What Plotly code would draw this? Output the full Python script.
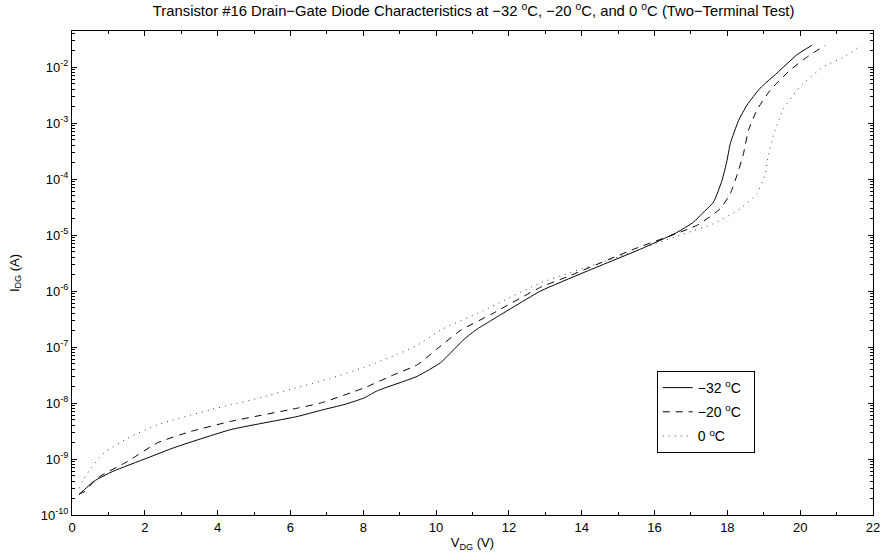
import plotly.graph_objects as go

# -32 C (solid)
v_m32 = [0.19, 0.6, 1.12, 2.08, 2.81, 4.36, 6.19, 6.83, 7.5, 8.02, 8.39, 9.48, 10.12, 10.45, 10.77, 11.13, 11.5, 12.87, 14.06, 15.61, 16.6, 17.07, 17.3, 17.62, 17.85, 17.99, 18.08, 18.31, 18.54, 18.90, 19.36, 19.91, 20.32]
i_m32 = [2.3e-10, 4.0e-10, 6.0e-10, 1.05e-9, 1.6e-9, 3.35e-9, 5.75e-9, 7.4e-9, 9.5e-9, 1.23e-8, 1.66e-8, 3.0e-8, 5.25e-8, 8.5e-8, 1.38e-7, 2.1e-7, 2.95e-7, 1.0e-6, 2.15e-6, 5.6e-6, 1.1e-5, 1.7e-5, 2.4e-5, 3.9e-5, 9.3e-5, 2.15e-4, 4.3e-4, 1.12e-3, 2.1e-3, 4.2e-3, 7.8e-3, 1.66e-2, 2.45e-2]

# -20 C (dashed)
v_m20 = [0.2, 0.34, 0.70, 1.53, 2.35, 3.26, 4.36, 6.19, 6.83, 8.02, 8.84, 9.48, 10.03, 10.68, 11.5, 12.87, 13.6, 15.43, 17.17, 17.8, 18.08, 18.28, 18.44, 18.58, 18.81, 19.18, 19.73, 20.18, 20.68]
i_m20 = [2.4e-10, 2.6e-10, 4.6e-10, 9.1e-10, 1.95e-9, 3.1e-9, 4.7e-9, 8.1e-9, 1.0e-8, 1.86e-8, 3.2e-8, 4.8e-8, 9.3e-8, 2.0e-7, 3.8e-7, 1.17e-6, 1.8e-6, 5.6e-6, 1.5e-5, 2.95e-5, 5.5e-5, 1.26e-4, 2.8e-4, 7.4e-4, 1.7e-3, 3.9e-3, 8.9e-3, 1.5e-2, 2.45e-2]

# 0 C (dotted)
v_0 = [0.2, 0.29, 0.52, 0.89, 1.53, 2.35, 3.81, 4.36, 5.19, 6.0, 7.1, 8.0, 8.94, 9.48, 10.15, 11.31, 12.87, 14.97, 16.8, 17.62, 18.35, 18.81, 19.04, 19.13, 19.31, 19.54, 20.0, 20.64, 21.19, 21.69]
i_0 = [3.0e-10, 4.0e-10, 6.9e-10, 1.3e-9, 2.35e-9, 4.1e-9, 7.6e-9, 9.3e-9, 1.25e-8, 1.75e-8, 2.75e-8, 4.3e-8, 7.4e-8, 1.07e-7, 2.05e-7, 4.5e-7, 1.4e-6, 4.0e-6, 1.05e-5, 1.6e-5, 2.95e-5, 5.5e-5, 1.23e-4, 2.8e-4, 7.4e-4, 1.8e-3, 4.5e-3, 1.02e-2, 1.5e-2, 2.45e-2]

PAD = "\u00a0"
series_names = ["\u221232 <sup>o</sup>C" + PAD * 2, "\u221220 <sup>o</sup>C" + PAD * 2, "0 <sup>o</sup>C" + PAD * 2]
x_ticks = [0, 2, 4, 6, 8, 10, 12, 14, 16, 18, 20, 22]
y_exps = [-10, -9, -8, -7, -6, -5, -4, -3, -2]

FONT = "Liberation Sans, Arial, sans-serif"

fig = go.Figure()
fig.add_trace(go.Scatter(x=v_m32, y=i_m32, mode="lines", name=series_names[0], legendgroup="a",
                         line=dict(color="black", width=1, dash="solid", shape="spline", smoothing=0.5)))
fig.add_trace(go.Scatter(x=v_m20, y=i_m20, mode="lines", name=series_names[1], legendgroup="b",
                         line=dict(color="black", width=1, dash="7px,6px", shape="spline", smoothing=0.5)))
fig.add_trace(go.Scatter(x=v_0, y=i_0, mode="lines", name=series_names[2], legendgroup="c",
                         line=dict(color="#444444", width=1, dash="1px,5px", shape="spline", smoothing=0.5)))
# empty trace so the mirrored (top/right) tick axes are drawn
fig.add_trace(go.Scatter(x=[], y=[], xaxis="x2", yaxis="y2", showlegend=False, hoverinfo="skip"))

minor_vals = []
for e in range(-10, -1):
    for k in range(2, 10):
        minor_vals.append(k * 10.0 ** e)

y_range = [-10, -1.355]

common = dict(ticks="inside", ticklen=5, tickcolor="black", showline=True, linecolor="black",
              linewidth=1, showgrid=False, zeroline=False, automargin=False)

fig.update_layout(
    width=882, height=552,
    margin=dict(l=72, r=9, t=31, b=37),
    paper_bgcolor="white", plot_bgcolor="white",
    font=dict(family=FONT, size=12, color="black"),
    title=dict(text="Transistor #16 Drain\u2212Gate Diode Characteristics at \u221232 <sup>o</sup>C, \u221220 <sup>o</sup>C, and 0 <sup>o</sup>C (Two\u2212Terminal Test)",
               x=0.537, xanchor="center", y=0.99, yanchor="top", font=dict(size=14.8)),
    showlegend=True,
    legend=dict(x=0.730, y=0.2975, xanchor="left", yanchor="top",
                bgcolor="white", bordercolor="black", borderwidth=1,
                font=dict(size=14), tracegroupgap=3, itemwidth=30),
    xaxis=dict(range=[0, 22], tickvals=x_ticks, ticktext=[str(t) for t in x_ticks], mirror="allticks",
               minor=dict(dtick=1, ticks="inside", ticklen=3, tickcolor="black", showgrid=False),
               title=dict(text="V<sub>DG</sub> (V)", standoff=12, font=dict(size=13)),
               tickfont=dict(size=13), **common),
    yaxis=dict(type="log", range=y_range, mirror="allticks",
               tickvals=[10.0 ** e for e in y_exps],
               ticktext=["10<sup>%d</sup>" % e for e in y_exps],
               minor=dict(tickvals=minor_vals, ticks="inside", ticklen=3, tickcolor="black", showgrid=False),
               title=dict(text="I<sub>DG</sub> (A)", standoff=18, font=dict(size=13)),
               tickfont=dict(size=13), **common),
    xaxis2=dict(range=[0, 22], overlaying="x", side="top", tickvals=x_ticks, showticklabels=False,
                minor=dict(dtick=1, ticks="inside", ticklen=3, tickcolor="black", showgrid=False),
                **common),
    yaxis2=dict(type="log", range=y_range, overlaying="y", side="right",
                tickvals=[10.0 ** e for e in y_exps], showticklabels=False,
                minor=dict(tickvals=minor_vals, ticks="inside", ticklen=3, tickcolor="black", showgrid=False),
                **common),
)

fig.write_html("out.html")
